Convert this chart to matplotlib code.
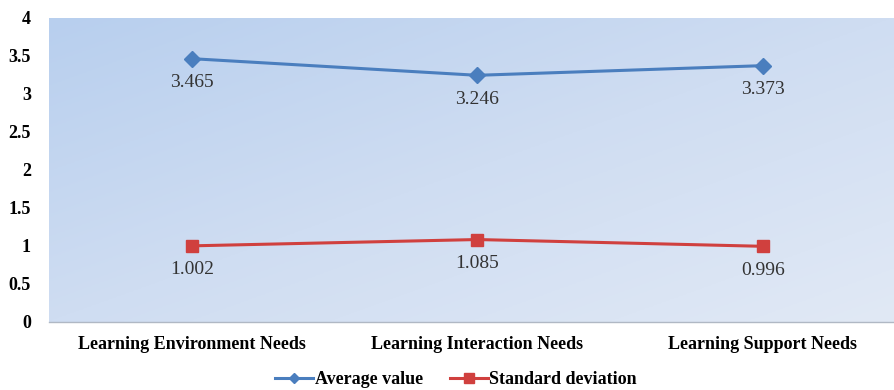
import numpy as np
import matplotlib
matplotlib.use("Agg")
import matplotlib.pyplot as plt
from matplotlib.colors import LinearSegmentedColormap
from matplotlib.lines import Line2D

categories = ["Learning Environment Needs", "Learning Interaction Needs", "Learning Support Needs"]
average_value = [3.465, 3.246, 3.373]
standard_deviation = [1.002, 1.085, 0.996]
y_ticks = [0, 0.5, 1, 1.5, 2, 2.5, 3, 3.5, 4]
y_tick_labels = ["0", "0.5", "1", "1.5", "2", "2.5", "3", "3.5", "4"]

plt.rcParams["font.family"] = ["Liberation Serif", "DejaVu Serif"]

fig = plt.figure(figsize=(8.94, 3.90), dpi=100)
ax = fig.add_axes([49 / 894, 1 - 322 / 390, 1 - 49 / 894, 304 / 390])

# diagonal gradient fill of the plot area: darker top-left, lighter bottom-right
cmap = LinearSegmentedColormap.from_list("bg", ["#b8cfee", "#cfddf2", "#e1e9f5"])
gx, gy = np.meshgrid(np.linspace(0, 1, 200), np.linspace(0, 1, 200))
grad = (gx + gy) / 2
ax.imshow(grad, extent=[0, 1, 0, 1], transform=ax.transAxes, cmap=cmap,
          aspect="auto", origin="upper", zorder=0)

x = np.arange(len(categories))
blue = "#4a7ebe"
red = "#d0403e"
ax.plot(x, average_value, color=blue, lw=2.2, marker="D", ms=8, zorder=3)
ax.plot(x, standard_deviation, color=red, lw=2.2, marker="s", ms=9, zorder=3)

for xi, v in zip(x, average_value):
    ax.annotate(f"{v:.3f}", (xi, v), xytext=(0, -11), textcoords="offset points",
                ha="center", va="top", fontsize=14, color="#333333")
for xi, v in zip(x, standard_deviation):
    ax.annotate(f"{v:.3f}", (xi, v), xytext=(0, -11), textcoords="offset points",
                ha="center", va="top", fontsize=14, color="#333333")

ax.set_xlim(-0.5, 2.46)
ax.set_ylim(0, 4)
ax.set_xticks(x)
ax.set_xticklabels(categories, fontsize=13, fontweight="bold")
ax.set_yticks(y_ticks)
ax.set_yticklabels(y_tick_labels, fontsize=13, fontweight="bold")
ax.tick_params(axis="both", length=0)
ax.tick_params(axis="x", pad=10)
ax.tick_params(axis="y", pad=13)
for s in ["top", "right", "left"]:
    ax.spines[s].set_visible(False)
ax.spines["bottom"].set_color("#b0b8c4")
ax.spines["bottom"].set_linewidth(1.0)

handles = [
    Line2D([0], [0], color=blue, lw=2.2, marker="D", ms=5),
    Line2D([0], [0], color=red, lw=2.2, marker="s", ms=7),
]
fig.legend(handles, ["Average value", "Standard deviation"], loc="center",
           bbox_to_anchor=(0.51, 1 - 380 / 390), ncol=2, frameon=False,
           prop={"weight": "bold", "size": 13}, handlelength=2.1,
           handletextpad=0.1, columnspacing=1.5)

fig.savefig("out.png", dpi=100)
